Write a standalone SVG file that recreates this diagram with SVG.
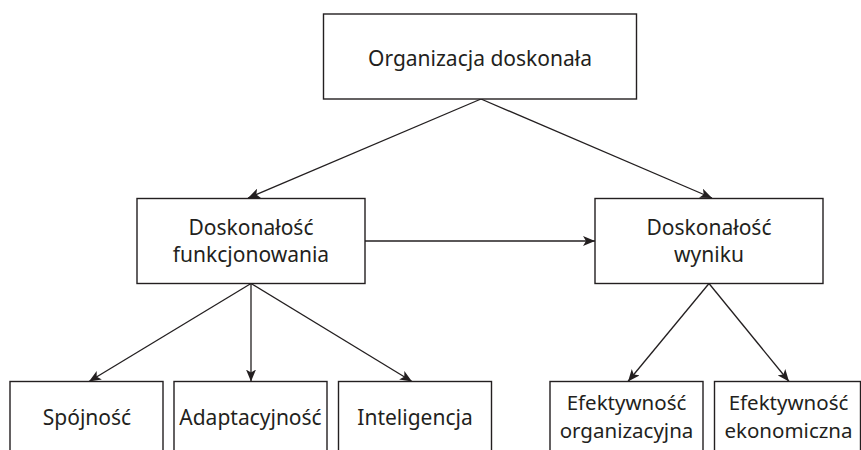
<svg xmlns="http://www.w3.org/2000/svg" width="861" height="450" viewBox="0 0 861 450">
<style>
.box{fill:#fff;stroke:#231f20;stroke-width:1.4}
.lbl{font-family:"Noto Sans","Open Sans","DejaVu Sans",sans-serif;font-size:21px;fill:#231f20;text-anchor:middle}
.sm{font-size:20.5px}
.con{fill:none;stroke:#231f20;stroke-width:1.3;marker-end:url(#ah)}
</style>
<defs>
<marker id="ah" markerUnits="userSpaceOnUse" viewBox="0 0 12 10" refX="12" refY="5" markerWidth="12" markerHeight="10" orient="auto">
<path d="M0,0 L12,5 L0,10 L3,5 z" fill="#231f20"/>
</marker>
</defs>
<rect width="861" height="450" fill="#fff"/>
<g id="connectors">
<line class="con" x1="481" y1="99" x2="248" y2="198"/>
<line class="con" x1="481" y1="99" x2="712" y2="198"/>
<line class="con" x1="365" y1="241" x2="595" y2="241"/>
<line class="con" x1="251" y1="283.5" x2="89" y2="381.5"/>
<line class="con" x1="251" y1="283.5" x2="251" y2="381.5"/>
<line class="con" x1="251" y1="283.5" x2="412" y2="381.5"/>
<line class="con" x1="709" y1="283.5" x2="628" y2="381.5"/>
<line class="con" x1="709" y1="283.5" x2="789" y2="381.5"/>
</g>
<g id="n-org">
<rect class="box" x="323.5" y="14" width="313" height="85"/>
<text class="lbl" x="480" y="65.5">Organizacja doskonała</text>
</g>
<g id="n-funk">
<rect class="box" x="137" y="198.5" width="228" height="85"/>
<text class="lbl" x="251" y="235">Doskonałość</text>
<text class="lbl" x="251" y="262">funkcjonowania</text>
</g>
<g id="n-wyn">
<rect class="box" x="595" y="198.5" width="228" height="85"/>
<text class="lbl" x="709" y="235">Doskonałość</text>
<text class="lbl" x="709" y="262">wyniku</text>
</g>
<g id="n-spoj">
<rect class="box" x="10" y="381.5" width="153" height="80"/>
<text class="lbl" x="87" y="425">Spójność</text>
</g>
<g id="n-adapt">
<rect class="box" x="174" y="381.5" width="153" height="80"/>
<text class="lbl" x="250.5" y="425">Adaptacyjność</text>
</g>
<g id="n-intel">
<rect class="box" x="338.5" y="381.5" width="153" height="80"/>
<text class="lbl" x="415" y="425">Inteligencja</text>
</g>
<g id="n-eforg">
<rect class="box" x="550" y="381.5" width="153" height="80"/>
<text class="lbl sm" x="626.5" y="410">Efektywność</text>
<text class="lbl sm" x="626.5" y="437.5">organizacyjna</text>
</g>
<g id="n-efeko">
<rect class="box" x="714.5" y="381.5" width="146" height="80"/>
<text class="lbl sm" x="788.5" y="410">Efektywność</text>
<text class="lbl sm" x="788.5" y="437.5">ekonomiczna</text>
</g>
</svg>
